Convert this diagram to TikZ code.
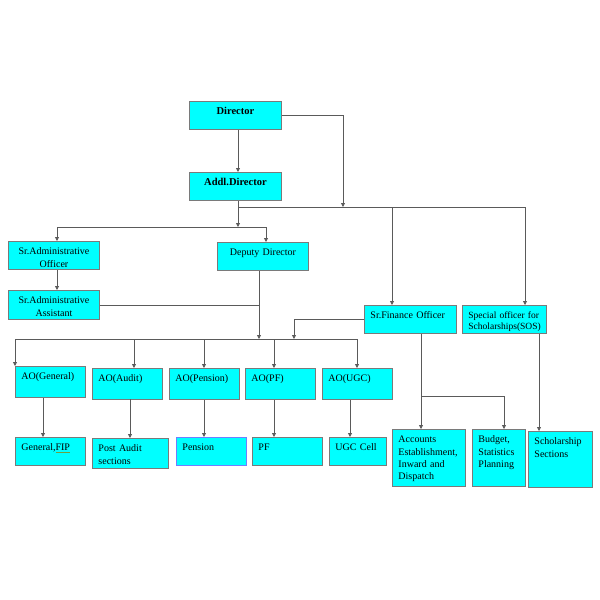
\documentclass[tikz,border=0pt]{standalone}
\usepackage{xcolor}
\usepackage{fontspec}
\setmainfont{Liberation Serif}
\usetikzlibrary{arrows.meta}

\definecolor{boxfill}{HTML}{00FFFF}
\definecolor{boxline}{HTML}{7A7A7A}
\definecolor{linegray}{HTML}{5A5A5A}
\definecolor{penline}{HTML}{6F7FFF}
\definecolor{spellgreen}{HTML}{6FA040}

\begin{document}
\begin{tikzpicture}[
    x=1pt, y=-1pt,
    orgbox/.style={draw=boxline, fill=boxfill, line width=0.9pt, anchor=north west,
        inner xsep=6pt, inner ysep=6pt, text height=7.5pt, align=left,
        font=\fontsize{10}{12.3}\selectfont},
    headbox/.style={orgbox, align=center, font=\fontsize{10.5}{12.3}\selectfont\bfseries},
    link/.style={draw=linegray, line width=0.8pt},
    >={Triangle[length=4pt,width=4pt]}
    ]

    \useasboundingbox (0,0) rectangle (600,600);

    \node[headbox, text width=80pt, text depth=8.5pt] (dir) at (189,101) {Director};
    \node[headbox, text width=80pt, text depth=8.5pt] (addl) at (189,172) {Addl.Director};

    \node[orgbox, align=center, text width=79pt, text depth=8.5pt] (sao) at (8,241) {Sr.Administrative\\Officer};
    \node[orgbox, align=center, text width=79pt, text depth=9.5pt] (saa) at (8,290) {Sr.Administrative\\Assistant};
    \node[orgbox, align=center, text width=79pt, text depth=8.5pt] (dep) at (217,242) {Deputy Director};
    \node[orgbox, text width=80pt, text depth=8.5pt] (fin) at (364,305) {Sr.Finance Officer};
    \node[orgbox, text width=72pt, text depth=8.5pt, font=\fontsize{9.5}{10.5}\selectfont] (sos) at (462,305) {Special officer for\\Scholarships(SOS)};

    % AO row
    \node[orgbox, text width=58pt, text depth=11.5pt] (aog) at (15,366) {AO(General)};
    \node[orgbox, text width=58pt, text depth=11pt] (aoa) at (92,368) {AO(Audit)};
    \node[orgbox, text width=58pt, text depth=11.5pt] (aop) at (169,368) {AO(Pension)};
    \node[orgbox, text width=58pt, text depth=11.5pt] (aof) at (245,368) {AO(PF)};
    \node[orgbox, text width=58pt, text depth=11.5pt] (aou) at (322,368) {AO(UGC)};

    % sections
    \node[orgbox, text width=58pt, text depth=8.5pt] (gen) at (15,437) {General,{\color{spellgreen}\underline{\color{black}FIP}}};
    \node[orgbox, text width=64pt, text depth=10.5pt] (pau) at (92,438) {Post Audit\\sections};
    \node[orgbox, draw=penline, text width=58pt, text depth=8.5pt] (pen) at (176,437) {Pension};
    \node[orgbox, text width=58pt, text depth=8.5pt] (pf) at (252,437) {PF};
    \node[orgbox, text width=45pt, text depth=8.5pt] (ugc) at (329,437) {UGC Cell};
    \node[orgbox, text width=61pt, text depth=37.5pt] (acc) at (392,429) {Accounts\\Establishment,\\Inward and\\Dispatch};
    \node[orgbox, text width=41pt, text depth=37.5pt] (bud) at (472,429) {Budget,\\Statistics\\Planning};
    \node[orgbox, text width=52pt, text depth=36.5pt] (sch) at (528,431) {Scholarship\\Sections};

    % top part
    \coordinate (busTopL) at (238,207);
    \coordinate (busTopR) at (525,207);
    \coordinate (dirDrop) at (343,207);
    \coordinate (finTap) at (392,207);
    \coordinate (midBus) at (238,227);
    \coordinate (midL) at (57,227);
    \coordinate (midR) at (266,227);

    \draw[link, ->] (dir.south -| midBus) -- (addl.north -| midBus);
    \draw[link] (busTopL) -- (busTopR);
    \draw[link, ->] (dir.east) -| (dirDrop);
    \draw[link, ->] (addl.south -| midBus) -- (midBus);
    \draw[link, ->] (finTap) -- (finTap |- fin.north);
    \draw[link, ->] (busTopR) -- (busTopR |- sos.north);

    \draw[link] (midL) -- (midR);
    \draw[link, ->] (midL) -- (midL |- sao.north);
    \draw[link, ->] (midR) -- (midR |- dep.north);
    \draw[link, ->] (sao.south -| midL) -- (saa.north -| midL);

    % to the AO row
    \coordinate (depTap) at (259,339);
    \coordinate (finDrop) at (294,339);
    \draw[link, ->] (dep.south -| depTap) -- (depTap);
    \draw[link] (saa.east) -- (saa.east -| depTap);
    \draw[link, ->] (fin.west) -| (finDrop);

    \foreach \x/\n in {15/aog,134/aoa,204/aop,274/aof,357/aou} {
        \coordinate (tap\n) at (\x,339);
        \draw[link, ->] (tap\n) -- (tap\n |- \n.north);
    }
    \draw[link] (tapaog) -- (tapaou);

    \foreach \a/\b/\x in {aog/gen/43, aoa/pau/130, aop/pen/204, aof/pf/274, aou/ugc/350}
        \draw[link, ->] (\a.south -| \x,0) -- (\b.north -| \x,0);

    % finance and scholarships
    \coordinate (finSplit) at (421,396);
    \draw[link, ->] (fin.south -| finSplit) -- (finSplit |- acc.north);
    \draw[link, ->] (finSplit) -| (bud.north -| 504,0);
    \draw[link, ->] (sos.south -| 539,0) -- (sch.north -| 539,0);

\end{tikzpicture}
\end{document}
